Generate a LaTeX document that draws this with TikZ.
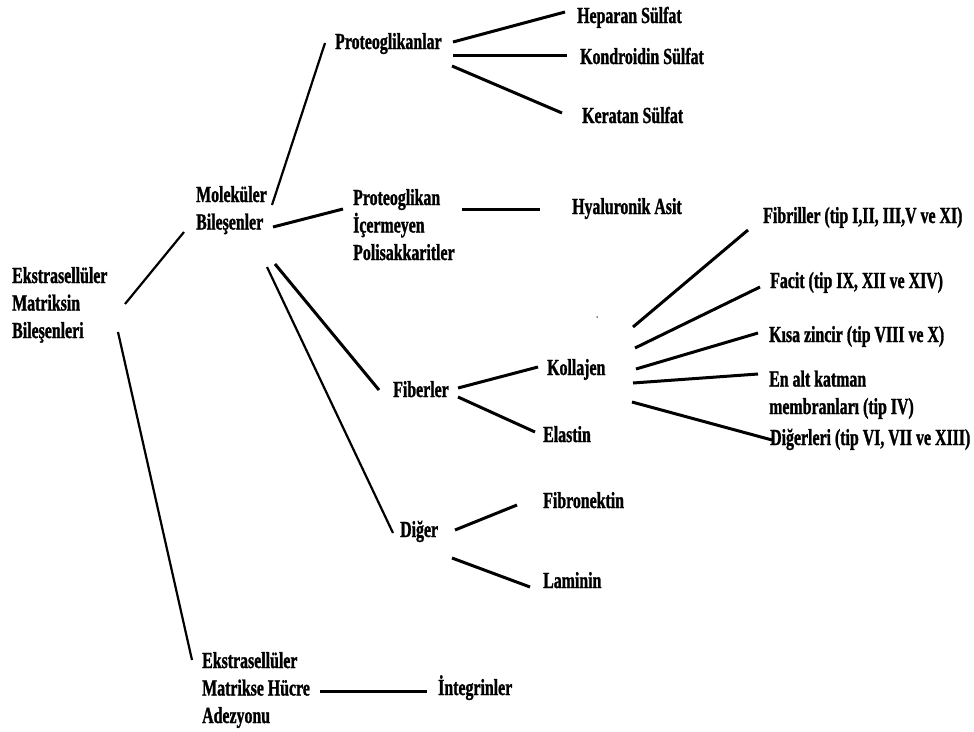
\documentclass[tikz,border=0pt]{standalone}
\usepackage{fontspec}
\setmainfont{Liberation Serif}[FakeStretch=0.69,BoldFeatures={FakeBold=1.2}]
\begin{document}
\begin{tikzpicture}[x=1pt,y=-1pt,
  lbl/.style={anchor=base west,inner sep=0pt,align=left,font=\fontsize{23}{27.5}\selectfont\bfseries},
  thk/.style={line width=3pt},
  thn/.style={line width=2.2pt}]
\useasboundingbox (0,0) rectangle (974,731);
\fill[white] (0,0) rectangle (974,731);
% multi-line nodes are placed by the baseline of their last line
\node[lbl] (ext) at (12,338) {Ekstrasellüler\\Matriksin\\Bileşenleri};
\node[lbl] (mol) at (196,229.5) {Moleküler\\Bileşenler};
\node[lbl] (adh) at (202,723) {Ekstrasellüler\\Matrikse Hücre\\Adezyonu};
\node[lbl] (pgl) at (335,49) {Proteoglikanlar};
\node[lbl] (hep) at (577,23) {Heparan Sülfat};
\node[lbl] (kon) at (580,64) {Kondroidin Sülfat};
\node[lbl] (ker) at (582,123) {Keratan Sülfat};
\node[lbl] (pip) at (353,260) {Proteoglikan\\İçermeyen\\Polisakkaritler};
\node[lbl] (hya) at (572,214) {Hyaluronik Asit};
\node[lbl] (fib) at (393,397) {Fiberler};
\node[lbl] (dig) at (400,537) {Diğer};
\node[lbl] (kol) at (547,375) {Kollajen};
\node[lbl] (ela) at (543,442) {Elastin};
\node[lbl] (fbn) at (543,508) {Fibronektin};
\node[lbl] (lam) at (543,588) {Laminin};
\node[lbl] (fbr) at (763,223) {Fibriller (tip I,II, III,V ve XI)};
\node[lbl] (fac) at (770,288) {Facit (tip IX, XII ve XIV)};
\node[lbl] (kis) at (769,342) {Kısa zincir (tip VIII ve X)};
\node[lbl] (enalt) at (769,414) {En alt katman\\membranları (tip IV)};
\node[lbl] (dgl) at (770,445) {Diğerleri (tip VI, VII ve XIII)};
\node[lbl] (int) at (438,695) {İntegrinler};
\node[circle,fill=black,inner sep=0pt,minimum size=1.5pt] (dot) at (597,317) {};
% connectors
\draw[thn] ([shift={(113,-34)}]ext.base west) -- ([shift={(-12,2.5)}]mol.base west);
\draw[thn] ([shift={(106,-6)}]ext.base west) -- ([shift={(-10,-63)}]adh.base west);
\draw[thn] ([shift={(76,-24.5)}]mol.base west) -- ([shift={(-10,-6)}]pgl.base west);
\draw[thk] ([shift={(77,-2.5)}]mol.base west) -- ([shift={(-10,-51)}]pip.base west);
\draw[thk] ([shift={(79,34.5)}]mol.base west) -- ([shift={(-14,-7)}]fib.base west);
\draw[thn] ([shift={(71,37.5)}]mol.base west) -- ([shift={(-7,-4)}]dig.base west);
\draw[thk] ([shift={(118,-7)}]pgl.base west) -- ([shift={(-12,-11)}]hep.base west);
\draw[thk] ([shift={(118,6)}]pgl.base west) -- ([shift={(-13,-9)}]kon.base west);
\draw[thk] ([shift={(117,17)}]pgl.base west) -- ([shift={(-20,-10)}]ker.base west);
\draw[thk] ([shift={(109,-51)}]pip.base west) -- ([shift={(-32,-5)}]hya.base west);
\draw[thk] ([shift={(65,-9)}]fib.base west) -- ([shift={(-9,-8)}]kol.base west);
\draw[thk] ([shift={(65,0)}]fib.base west) -- ([shift={(-8,-10)}]ela.base west);
\draw[thk] ([shift={(55,-7)}]dig.base west) -- ([shift={(-26,-3)}]fbn.base west);
\draw[thk] ([shift={(52,21)}]dig.base west) -- ([shift={(-13,-1)}]lam.base west);
\draw[thk] ([shift={(86,-48)}]kol.base west) -- ([shift={(-15,7)}]fbr.base west);
\draw[thk] ([shift={(88,-27)}]kol.base west) -- ([shift={(-10,-1)}]fac.base west);
\draw[thk] ([shift={(89,-6)}]kol.base west) -- ([shift={(-11,-9)}]kis.base west);
\draw[thk] ([shift={(86,8)}]kol.base west) -- ([shift={(-11,-40)}]enalt.base west);
\draw[thk] ([shift={(85,27)}]kol.base west) -- ([shift={(2,-5)}]dgl.base west);
\draw[thk] ([shift={(118,-32)}]adh.base west) -- ([shift={(-11,-4)}]int.base west);
\end{tikzpicture}
\end{document}
